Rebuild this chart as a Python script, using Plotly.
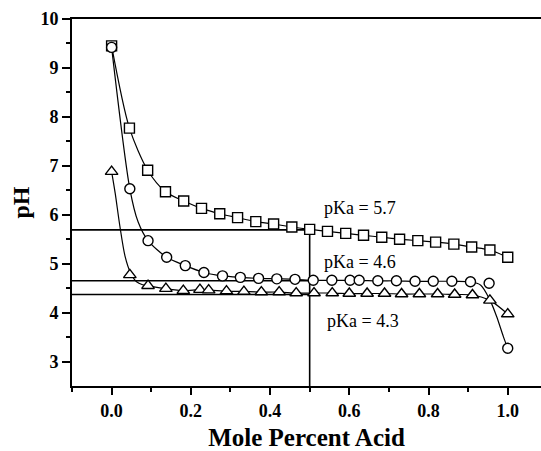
import plotly.graph_objects as go

# Titration data: pH against mole fraction of acid for three acids
sq_x = [0, 0.045, 0.091, 0.136, 0.182, 0.227, 0.273, 0.318, 0.364, 0.409, 0.455, 0.5,
        0.545, 0.591, 0.636, 0.682, 0.727, 0.773, 0.818, 0.864, 0.909, 0.955, 1.0]
sq_ph = [9.45, 7.77, 6.91, 6.47, 6.28, 6.13, 6.02, 5.94, 5.86, 5.81, 5.75, 5.70,
         5.66, 5.62, 5.58, 5.54, 5.50, 5.47, 5.44, 5.40, 5.34, 5.28, 5.13]

ci_x = [0, 0.046, 0.092, 0.139, 0.186, 0.233, 0.28, 0.325, 0.371, 0.417, 0.463, 0.509,
        0.556, 0.602, 0.625, 0.672, 0.719, 0.766, 0.812, 0.859, 0.906, 0.953, 1.0]
ci_ph = [9.42, 6.53, 5.47, 5.13, 4.96, 4.82, 4.75, 4.72, 4.70, 4.69, 4.68, 4.66,
         4.66, 4.66, 4.66, 4.65, 4.65, 4.64, 4.64, 4.64, 4.63, 4.60, 3.27]

tr_x = [0, 0.046, 0.092, 0.137, 0.181, 0.223, 0.245, 0.29, 0.334, 0.378, 0.423, 0.466,
        0.511, 0.557, 0.6, 0.645, 0.689, 0.732, 0.777, 0.823, 0.866, 0.911, 0.955, 1.0]
tr_ph = [6.88, 4.77, 4.55, 4.49, 4.45, 4.47, 4.46, 4.44, 4.43, 4.42, 4.42, 4.40,
         4.40, 4.40, 4.39, 4.39, 4.39, 4.38, 4.38, 4.38, 4.37, 4.36, 4.25, 3.97]

# Fitted curves drawn through the data
sq_fit_x = sq_x
sq_fit_ph = sq_ph
ci_fit_x = [0, 0.046, 0.067, 0.092, 0.139, 0.186, 0.233, 0.28, 0.325, 0.371, 0.417, 0.463,
            0.509, 0.556, 0.602, 0.625, 0.672, 0.719, 0.766, 0.812, 0.859, 0.906, 0.932,
            0.955, 0.972, 0.989, 1.0]
ci_fit_ph = [9.42, 6.53, 5.85, 5.47, 5.13, 4.96, 4.82, 4.75, 4.72, 4.70, 4.69, 4.68,
             4.66, 4.66, 4.66, 4.66, 4.65, 4.65, 4.64, 4.64, 4.64, 4.63, 4.56,
             4.26, 3.92, 3.51, 3.27]
tr_fit_x = [0, 0.009, 0.021, 0.034, 0.048, 0.063, 0.078, 0.092, 0.137, 0.181, 0.223, 0.245,
            0.29, 0.334, 0.378, 0.423, 0.466, 0.511, 0.557, 0.6, 0.645, 0.689, 0.732, 0.777,
            0.823, 0.866, 0.911, 0.955, 1.0]
tr_fit_ph = [6.88, 6.44, 5.76, 5.15, 4.81, 4.63, 4.57, 4.55, 4.49, 4.45, 4.47, 4.46,
             4.44, 4.43, 4.42, 4.42, 4.40, 4.40, 4.40, 4.39, 4.39, 4.39, 4.38, 4.38,
             4.38, 4.37, 4.36, 4.25, 3.97]

# pH read at half neutralisation (x = 0.5)
half_x = 0.5
half_ph = [5.69, 4.65, 4.37]
x_min, x_max = -0.1, 1.084
y_min, y_max = 2.5, 10

labels = ["pKa = 5.7", "pKa = 4.6", "pKa = 4.3"]
label_x = [0.628, 0.628, 0.634]
label_y = [6.13, 5.04, 3.82]

SERIF = "Liberation Serif, Times New Roman, Times, serif"

fig = go.Figure()

# guide lines
for ph in half_ph:
    fig.add_trace(go.Scatter(x=[x_min, half_x], y=[ph, ph], mode="lines",
                             line=dict(color="black", width=1.6), hoverinfo="skip"))
fig.add_trace(go.Scatter(x=[half_x, half_x], y=[y_min, half_ph[0]], mode="lines",
                         line=dict(color="black", width=1.6), hoverinfo="skip"))

# curves
for fx, fy in [(sq_fit_x, sq_fit_ph), (ci_fit_x, ci_fit_ph), (tr_fit_x, tr_fit_ph)]:
    fig.add_trace(go.Scatter(x=fx, y=fy, mode="lines",
                             line=dict(color="black", width=1.2, shape="spline", smoothing=0.8),
                             hoverinfo="skip"))

# markers
for mx, my, sym, size in [(sq_x, sq_ph, "square", 10),
                          (ci_x, ci_ph, "circle", 10),
                          (tr_x, tr_ph, "triangle-up", 11)]:
    fig.add_trace(go.Scatter(x=mx, y=my, mode="markers",
                             marker=dict(symbol=sym, size=size, color="white",
                                         line=dict(color="black", width=1.4))))

for t, lx, ly in zip(labels, label_x, label_y):
    fig.add_annotation(x=lx, y=ly, text=t, showarrow=False,
                       font=dict(family=SERIF, size=18, color="black"))

fig.update_layout(
    width=541, height=451,
    margin=dict(l=72, r=0, t=19, b=65),
    paper_bgcolor="white", plot_bgcolor="white",
    showlegend=False,
    xaxis=dict(
        range=[x_min, x_max],
        automargin=False,
        tickvals=[0, 0.2, 0.4, 0.6, 0.8, 1.0],
        ticktext=["0.0", "0.2", "0.4", "0.6", "0.8", "1.0"],
        ticks="outside", ticklen=7, tickwidth=2, tickcolor="black",
        minor=dict(tickvals=[-0.1, 0.1, 0.3, 0.5, 0.7, 0.9], ticks="outside",
                   ticklen=4, tickwidth=1.5, tickcolor="black"),
        showline=True, linewidth=2, linecolor="black", mirror=True,
        showgrid=False, zeroline=False,
        tickfont=dict(family=SERIF, size=18, color="black", weight="bold"),
        title=dict(text="Mole Percent Acid", standoff=20,
                   font=dict(family=SERIF, size=25, color="black", weight="bold")),
    ),
    yaxis=dict(
        range=[y_min, y_max],
        automargin=False,
        tickvals=[3, 4, 5, 6, 7, 8, 9, 10],
        ticks="outside", ticklen=8, tickwidth=2, tickcolor="black",
        minor=dict(tickvals=[3.5, 4.5, 5.5, 6.5, 7.5, 8.5, 9.5], ticks="outside",
                   ticklen=4, tickwidth=1.5, tickcolor="black"),
        showline=True, linewidth=2, linecolor="black",
        showgrid=False, zeroline=False,
        tickfont=dict(family=SERIF, size=18, color="black", weight="bold"),
        title=dict(text="pH", standoff=4,
                   font=dict(family=SERIF, size=24, color="black", weight="bold")),
    ),
)

fig.write_html("out.html")
